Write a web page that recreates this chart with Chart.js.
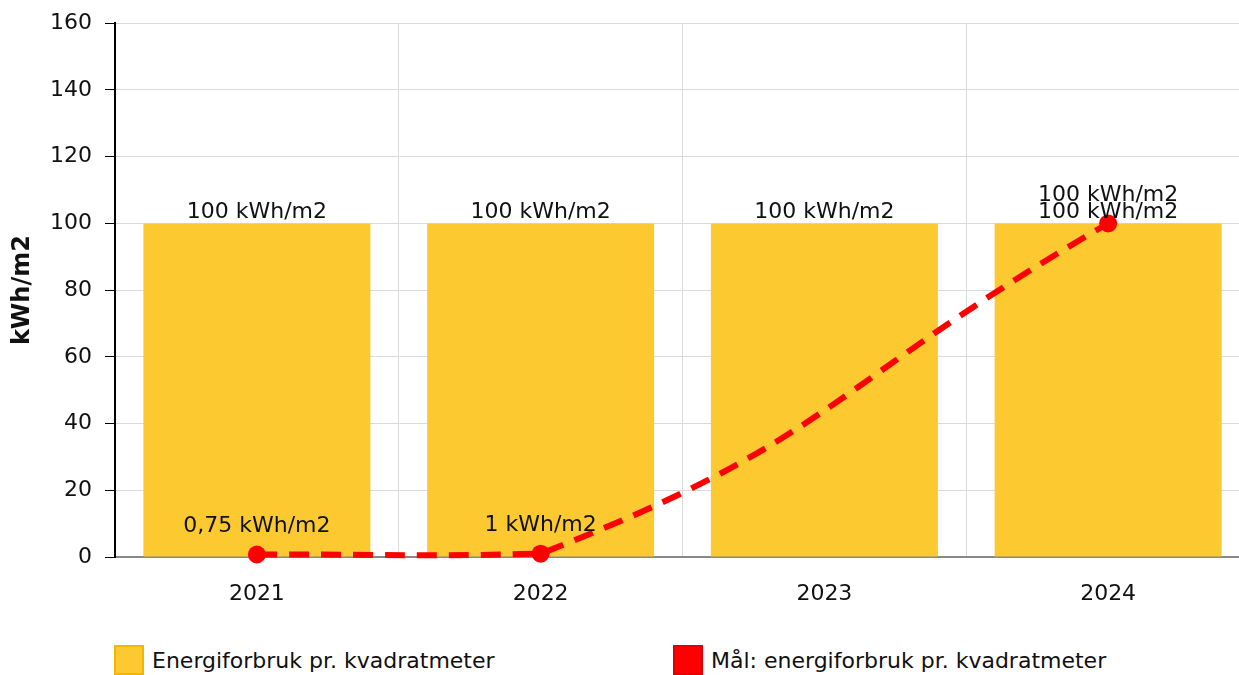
<!DOCTYPE html>
<html>
<head>
<meta charset="utf-8">
<script src="https://cdn.jsdelivr.net/npm/chart.js@4"></script>
<style>
  body { margin: 0; background: #fff; font-family: "DejaVu Sans", Verdana, sans-serif; overflow: hidden; }
  .wrap { position: relative; width: 1239px; height: 620px; overflow: hidden; }
  .wrap canvas { position: absolute; top: -3px; left: 0; }
  .legend { position: relative; height: 55px; }
  .item { position: absolute; top: 25px; display: flex; align-items: center; font-size: 22px; color: #111; }
  .box { width: 30px; height: 30px; margin-right: 8px; box-sizing: border-box; }
</style>
</head>
<body>
<div class="wrap"><canvas id="energyChart" width="1259" height="623"></canvas></div>
<div class="legend">
  <div class="item" style="left:114px"><span class="box" style="background:#fcc930;border:2px solid #f7b500"></span>Energiforbruk pr. kvadratmeter</div>
  <div class="item" style="left:673px"><span class="box" style="background:#ff0000;border:2px solid #e00000"></span>Mål: energiforbruk pr. kvadratmeter</div>
</div>
<script>
const years = ['2021', '2022', '2023', '2024'];
const usage = [100, 100, 100, 100];
const target = [0.75, 1, null, 100];
const yTicks = [0, 20, 40, 60, 80, 100, 120, 140, 160];

const fmt = v => String(v).replace('.', ',') + ' kWh/m2';

// draws value labels above bars and points
const valueLabels = {
  id: 'valueLabels',
  afterDatasetsDraw(chart) {
    const ctx = chart.ctx;
    ctx.save();
    ctx.font = '22px "DejaVu Sans", Verdana, sans-serif';
    ctx.fillStyle = '#111';
    ctx.textAlign = 'center';
    ctx.textBaseline = 'bottom';
    chart.data.datasets.forEach((ds, i) => {
      const meta = chart.getDatasetMeta(i);
      meta.data.forEach((el, j) => {
        const v = ds.data[j];
        if (v === null || v === undefined) return;
        const off = ds.type === 'line' ? 17 : 0;
        ctx.fillText(fmt(v), el.x, el.y - off);
      });
    });
    ctx.restore();
  }
};

const ctx = document.getElementById('energyChart').getContext('2d');
new Chart(ctx, {
  type: 'bar',
  data: {
    labels: years,
    datasets: [
      {
        type: 'line',
        label: 'Mål: energiforbruk pr. kvadratmeter',
        data: target,
        borderColor: '#ff0000',
        backgroundColor: '#ff0000',
        borderWidth: 6,
        borderDash: [20, 12],
        pointRadius: 9,
        pointBorderWidth: 0,
        tension: 0.5,
        spanGaps: true,
        clip: false,
        order: 0
      },
      {
        label: 'Energiforbruk pr. kvadratmeter',
        data: usage,
        backgroundColor: '#fcc930',
        barPercentage: 0.8,
        categoryPercentage: 1,
        order: 1
      }
    ]
  },
  options: {
    responsive: false,
    animation: false,
    layout: { padding: { top: 10, right: 0, left: 0, bottom: 0 } },
    plugins: {
      legend: { display: false },
      tooltip: { enabled: false }
    },
    scales: {
      x: {
        grid: { color: '#dadada', offset: true, drawTicks: false },
        border: { color: '#888', width: 2 },
        ticks: { color: '#111', font: { size: 22, family: '"DejaVu Sans", Verdana' }, padding: 24 },
        afterFit(s) { s.height = 63; }
      },
      y: {
        min: 0,
        max: 160,
        afterBuildTicks(s) { s.ticks = yTicks.map(v => ({ value: v })); },
        grid: { color: '#dadada', tickColor: '#000', tickLength: 10 },
        border: { color: '#000', width: 2 },
        ticks: { color: '#111', font: { size: 22, family: '"DejaVu Sans", Verdana' }, padding: 13 },
        title: {
          display: true,
          text: 'kWh/m2',
          color: '#111',
          padding: { top: 8, bottom: 0 },
          font: { size: 24, weight: 'bold', family: '"DejaVu Sans", Verdana' }
        },
        afterFit(s) { s.width = 115; }
      }
    }
  },
  plugins: [valueLabels]
});
</script>
</body>
</html>
